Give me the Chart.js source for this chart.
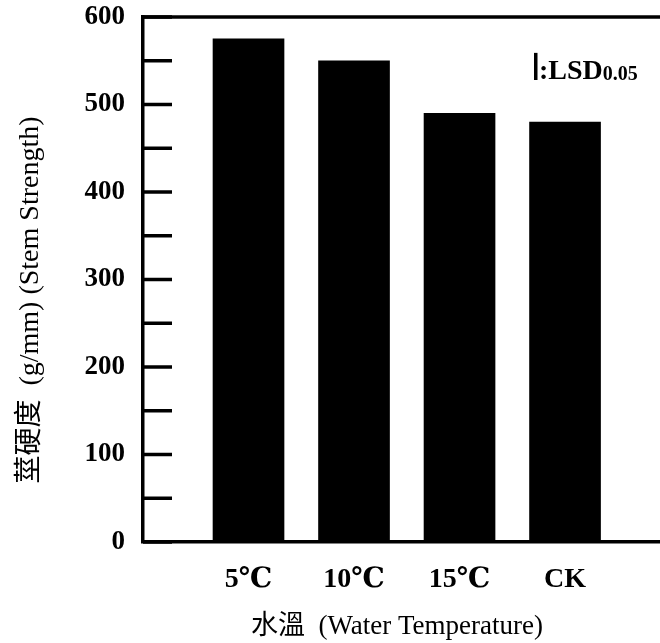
<!DOCTYPE html>
<html>
<head>
<meta charset="utf-8">
<script src="https://cdn.jsdelivr.net/npm/chart.js@4.4.1/dist/chart.umd.min.js"></script>
<style>
  html, body { margin: 0; padding: 0; background: #fff; overflow: hidden; }
</style>
</head>
<body>
<canvas id="myChart" width="660" height="643"></canvas>
<script>
const ctx = document.querySelector("#myChart").getContext("2d");

// water temperature treatments, placed at 1..4 on the x axis
const labels = ["5℃", "10℃", "15℃", "CK"];
const positions = [1, 2, 3, 4];
const strength = [575, 550, 490, 480];
const yTicks = [0, 100, 200, 300, 400, 500, 600];
const minorTicks = [50, 150, 250, 350, 450, 550];
const lsd = 31;

const serif = "'Liberation Serif', 'Times New Roman', 'DejaVu Serif', 'Noto Sans CJK TC', serif";

const frame = {
    id: "frame",
    afterDatasetsDraw(chart) {
        const c = chart.ctx;
        const area = chart.chartArea;
        const y = chart.scales.y;
        c.save();
        c.strokeStyle = "#000";
        c.fillStyle = "#000";
        c.lineWidth = 3.5;
        // tick marks point inward
        yTicks.concat(minorTicks).forEach(v => {
            const py = y.getPixelForValue(v);
            c.beginPath();
            c.moveTo(area.left, py);
            c.lineTo(area.left + 29, py);
            c.stroke();
        });
        c.beginPath();
        c.moveTo(area.left - 1.75, area.top);
        c.lineTo(area.right, area.top);
        c.stroke();

        // LSD key
        const len = y.getPixelForValue(0) - y.getPixelForValue(lsd);
        c.fillRect(534, 80 - len, 3.5, len);
        c.font = "bold 28px " + serif;
        c.textBaseline = "alphabetic";
        c.fillText(":LSD", 539, 79);
        const w = c.measureText(":LSD").width;
        c.font = "bold 20px " + serif;
        c.fillText("0.05", 539 + w, 80);

        // axis titles
        c.font = "27px " + serif;
        c.textAlign = "center";
        c.textBaseline = "middle";
        c.fillText("水溫  (Water Temperature)", 397, 627);
        c.font = "28px " + serif;
        c.translate(31, 300);
        c.rotate(-Math.PI / 2);
        c.fillText("莖硬度  (g/mm) (Stem Strength)", 0, 0);
        c.restore();
    }
};

const data = {
    datasets: [{
        data: positions.map((x, i) => ({ x: x, y: strength[i] })),
        backgroundColor: "#000",
        borderWidth: 0,
        barThickness: 71,
    }]
};

const config = {
    type: "bar",
    data: data,
    plugins: [frame],
    options: {
        responsive: false,
        animation: false,
        layout: { padding: { top: 17, right: 0, left: 0, bottom: 0 } },
        plugins: {
            legend: { display: false },
            tooltip: { enabled: false },
        },
        scales: {
            x: {
                type: "linear",
                offset: false,
                min: 0,
                max: 4.9,
                afterBuildTicks: (scale) => {
                    scale.ticks = positions.map(v => ({ value: v }));
                },
                afterFit: (scale) => { scale.height = 101; },
                grid: { display: false, drawTicks: false },
                border: { display: true, color: "#000", width: 3.5 },
                ticks: {
                    autoSkip: false,
                    maxRotation: 0,
                    padding: 21,
                    color: "#000",
                    font: { family: serif, size: 28, weight: "bold" },
                    callback: (v) => labels[positions.indexOf(v)],
                },
            },
            y: {
                min: 0,
                max: 600,
                afterBuildTicks: (scale) => {
                    scale.ticks = yTicks.map(v => ({ value: v }));
                },
                afterFit: (scale) => { scale.width = 143; },
                grid: {
                    display: true,
                    drawOnChartArea: false,
                    drawTicks: true,
                    tickLength: 18,
                    color: "rgba(0,0,0,0)",
                    tickColor: "rgba(0,0,0,0)",
                },
                border: { display: true, color: "#000", width: 3.5 },
                ticks: {
                    padding: 0,
                    color: "#000",
                    font: { family: serif, size: 27, weight: "bold" },
                },
            },
        },
    },
};

const myChart = new Chart(ctx, config);
</script>
</body>
</html>
